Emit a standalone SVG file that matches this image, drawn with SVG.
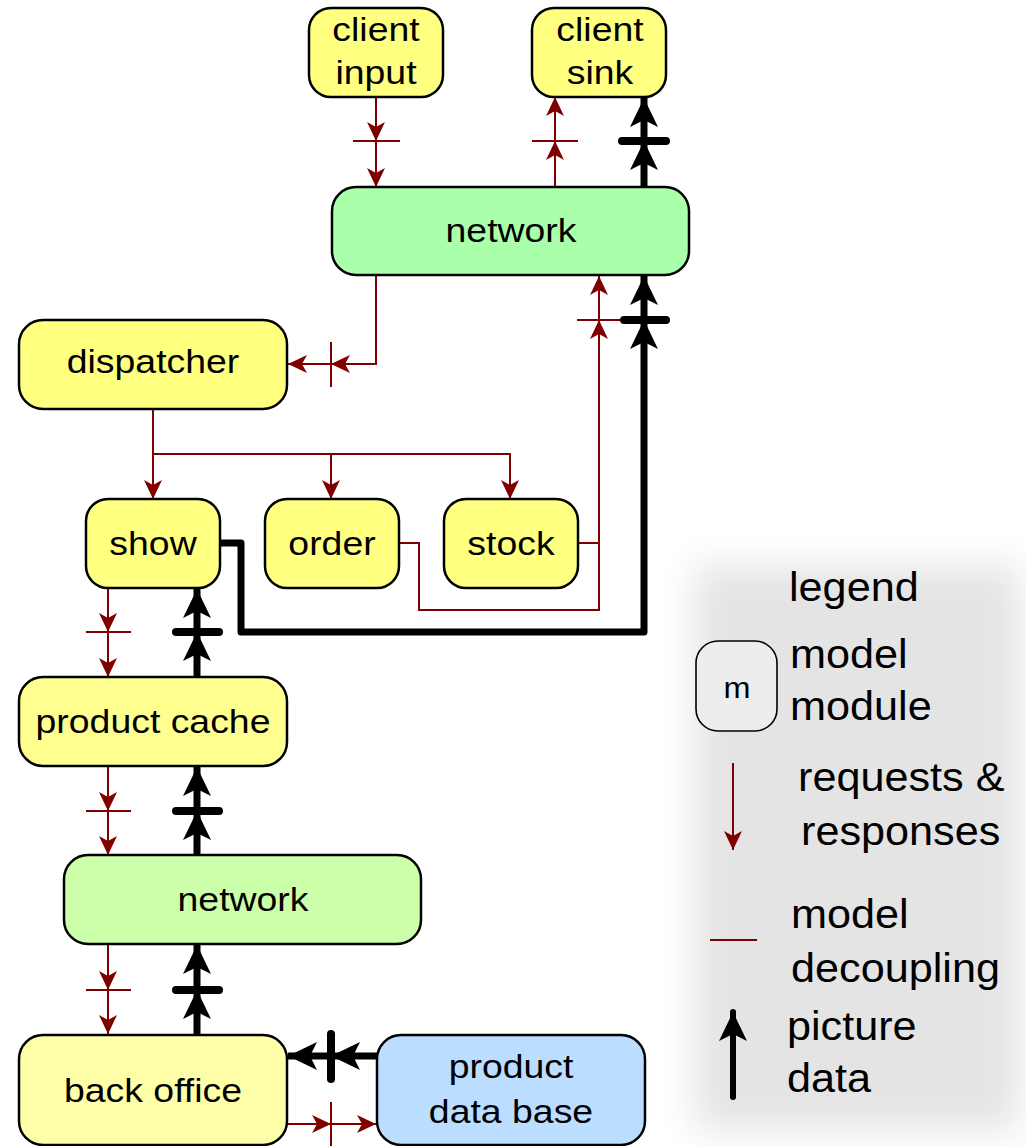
<svg xmlns="http://www.w3.org/2000/svg" width="1026" height="1146" viewBox="0 0 1026 1146">
  <style>
    .node rect { stroke: #000; stroke-width: 2.5; }
    .yel { fill: #ffff80; }
    .yel2 { fill: #ffff90; }
    .yel3 { fill: #ffffaa; }
    .grn { fill: #aaffaa; }
    .grn2 { fill: #ccffaa; }
    .blu { fill: #bbddff; }
    text { font-family: "Liberation Sans", Arial, sans-serif; fill: #000; }
    .lbl { font-size: 34px; text-anchor: middle; }
    .leg { font-size: 40px; }
    .req { stroke: #800000; stroke-width: 2; fill: none; }
    .pic { stroke: #000; stroke-width: 7; fill: none; }
    .bar-r { stroke: #800000; stroke-width: 2; }
    .bar-b { stroke: #000; stroke-width: 8; stroke-linecap: round; }
  </style>
  <defs>
    <marker id="ar" markerUnits="userSpaceOnUse" markerWidth="22" markerHeight="20" viewBox="-20 -10 22 20" refX="0" refY="0" orient="auto">
      <path d="M0,0 L-19,-9 L-14,0 L-19,9 Z" fill="#800000"/>
    </marker>
    <marker id="ab" markerUnits="userSpaceOnUse" markerWidth="34" markerHeight="30" viewBox="-32 -15 34 30" refX="0" refY="0" orient="auto">
      <path d="M0,0 L-29,-14 L-22,0 L-29,14 Z" fill="#000"/>
    </marker>
    <filter id="soft" x="-20%" y="-20%" width="140%" height="140%">
      <feGaussianBlur stdDeviation="18"/>
    </filter>
  </defs>

  <rect width="1026" height="1146" fill="#fff"/>

  <!-- legend backdrop -->
  <rect x="695" y="565" width="325" height="565" fill="#e4e4e4" filter="url(#soft)"/>

  <!-- connectors -->
  <g id="connectors">
    <!-- client input -> network -->
    <path class="req" d="M376,97 V141" marker-end="url(#ar)"/>
    <path class="req" d="M376,141 V187" marker-end="url(#ar)"/>
    <line class="bar-r" x1="353" y1="141" x2="400" y2="141"/>
    <!-- network -> client sink -->
    <path class="req" d="M555,187 V141" marker-end="url(#ar)"/>
    <path class="req" d="M555,141 V97" marker-end="url(#ar)"/>
    <line class="bar-r" x1="532" y1="141" x2="578" y2="141"/>
    <path class="pic" d="M644,187 V141" marker-end="url(#ab)"/>
    <path class="pic" d="M644,141 V98" marker-end="url(#ab)"/>
    <line class="bar-b" x1="622" y1="141" x2="666" y2="141"/>

    <!-- network -> dispatcher -->
    <path class="req" d="M376,275 V364 H331" marker-end="url(#ar)"/>
    <path class="req" d="M331,364 H288" marker-end="url(#ar)"/>
    <line class="bar-r" x1="331" y1="342" x2="331" y2="387"/>

    <!-- dispatcher -> show / order / stock -->
    <path class="req" d="M153,409 V499" marker-end="url(#ar)"/>
    <path class="req" d="M153,454 H510 V499" marker-end="url(#ar)"/>
    <path class="req" d="M331,454 V499" marker-end="url(#ar)"/>

    <!-- order / stock -> network -->
    <path class="req" d="M578,543 H599"/>
    <path class="req" d="M399,543 H419 V610 H599 V320" marker-end="url(#ar)"/>
    <path class="req" d="M599,320 V276" marker-end="url(#ar)"/>
    <line class="bar-r" x1="577" y1="320" x2="621" y2="320"/>

    <!-- show -> network (picture) -->
    <path class="pic" d="M220,543 H241 V632 H644 V320" marker-end="url(#ab)" stroke-linejoin="round"/>
    <path class="pic" d="M644,320 V276" marker-end="url(#ab)"/>
    <line class="bar-b" x1="624" y1="320" x2="666" y2="320"/>

    <!-- show <-> product cache -->
    <path class="req" d="M108,588 V632" marker-end="url(#ar)"/>
    <path class="req" d="M108,632 V677" marker-end="url(#ar)"/>
    <line class="bar-r" x1="86" y1="632" x2="131" y2="632"/>
    <path class="pic" d="M197,677 V632" marker-end="url(#ab)"/>
    <path class="pic" d="M197,632 V589" marker-end="url(#ab)"/>
    <line class="bar-b" x1="176" y1="632" x2="219" y2="632"/>

    <!-- product cache <-> network -->
    <path class="req" d="M108,766 V811" marker-end="url(#ar)"/>
    <path class="req" d="M108,811 V855" marker-end="url(#ar)"/>
    <line class="bar-r" x1="86" y1="811" x2="131" y2="811"/>
    <path class="pic" d="M197,855 V811" marker-end="url(#ab)"/>
    <path class="pic" d="M197,811 V767" marker-end="url(#ab)"/>
    <line class="bar-b" x1="176" y1="811" x2="219" y2="811"/>

    <!-- network <-> back office -->
    <path class="req" d="M108,944 V990" marker-end="url(#ar)"/>
    <path class="req" d="M108,990 V1034" marker-end="url(#ar)"/>
    <line class="bar-r" x1="86" y1="990" x2="131" y2="990"/>
    <path class="pic" d="M197,1034 V990" marker-end="url(#ab)"/>
    <path class="pic" d="M197,990 V945" marker-end="url(#ab)"/>
    <line class="bar-b" x1="176" y1="990" x2="219" y2="990"/>

    <!-- product data base <-> back office -->
    <path class="pic" d="M377,1056 H331" marker-end="url(#ab)"/>
    <path class="pic" d="M331,1056 H288" marker-end="url(#ab)"/>
    <line class="bar-b" x1="331" y1="1034" x2="331" y2="1079"/>
    <path class="req" d="M287,1124 H331" marker-end="url(#ar)"/>
    <path class="req" d="M331,1124 H376" marker-end="url(#ar)"/>
    <line class="bar-r" x1="331" y1="1102" x2="331" y2="1146"/>
  </g>

  <!-- nodes (labels are drawn slightly widened) -->
  <g id="client-input" class="node">
    <rect class="yel" x="309" y="8" width="134" height="89" rx="22"/>
    <text class="lbl" transform="translate(376,41) scale(1.1,1)">client</text>
    <text class="lbl" transform="translate(376,84) scale(1.1,1)">input</text>
  </g>
  <g id="client-sink" class="node">
    <rect class="yel" x="532" y="8" width="134" height="89" rx="22"/>
    <text class="lbl" transform="translate(600,41) scale(1.1,1)">client</text>
    <text class="lbl" transform="translate(600,84) scale(1.1,1)">sink</text>
  </g>
  <g id="network-top" class="node">
    <rect class="grn" x="332" y="187" width="357" height="88" rx="24"/>
    <text class="lbl" transform="translate(511,242) scale(1.1,1)">network</text>
  </g>
  <g id="dispatcher" class="node">
    <rect class="yel" x="19" y="320" width="268" height="89" rx="24"/>
    <text class="lbl" transform="translate(153,373) scale(1.1,1)">dispatcher</text>
  </g>
  <g id="show" class="node">
    <rect class="yel" x="86" y="499" width="134" height="89" rx="22"/>
    <text class="lbl" transform="translate(153,555) scale(1.1,1)">show</text>
  </g>
  <g id="order" class="node">
    <rect class="yel" x="265" y="499" width="134" height="89" rx="22"/>
    <text class="lbl" transform="translate(332,555) scale(1.1,1)">order</text>
  </g>
  <g id="stock" class="node">
    <rect class="yel" x="444" y="499" width="134" height="89" rx="22"/>
    <text class="lbl" transform="translate(511,555) scale(1.1,1)">stock</text>
  </g>
  <g id="product-cache" class="node">
    <rect class="yel2" x="19" y="677" width="268" height="89" rx="24"/>
    <text class="lbl" transform="translate(153,733) scale(1.1,1)">product cache</text>
  </g>
  <g id="network-bottom" class="node">
    <rect class="grn2" x="64" y="855" width="357" height="89" rx="24"/>
    <text class="lbl" transform="translate(243,911) scale(1.1,1)">network</text>
  </g>
  <g id="back-office" class="node">
    <rect class="yel3" x="19" y="1035" width="268" height="110" rx="24"/>
    <text class="lbl" transform="translate(153,1102) scale(1.1,1)">back office</text>
  </g>
  <g id="product-data-base" class="node">
    <rect class="blu" x="377" y="1035" width="268" height="110" rx="24"/>
    <text class="lbl" transform="translate(511,1078) scale(1.1,1)">product</text>
    <text class="lbl" transform="translate(511,1123) scale(1.1,1)">data base</text>
  </g>

  <!-- legend -->
  <g id="legend">
    <text class="leg" transform="translate(789,601) scale(1.08,1)">legend</text>
    <rect x="696" y="641" width="81" height="90" rx="22" fill="#ededed" stroke="#000" stroke-width="1.6"/>
    <text transform="translate(737,698) scale(1.08,1)" font-size="30" text-anchor="middle">m</text>
    <text class="leg" transform="translate(790,668) scale(1.08,1)">model</text>
    <text class="leg" transform="translate(790,720) scale(1.08,1)">module</text>
    <path class="req" d="M733,763 V850" marker-end="url(#ar)"/>
    <text class="leg" transform="translate(798,791) scale(1.08,1)">requests &amp;</text>
    <text class="leg" transform="translate(801,845) scale(1.08,1)">responses</text>
    <line class="bar-r" x1="710" y1="940" x2="757" y2="940"/>
    <text class="leg" transform="translate(791,928) scale(1.08,1)">model</text>
    <text class="leg" transform="translate(791,982) scale(1.08,1)">decoupling</text>
    <path stroke="#000" stroke-width="6" stroke-linecap="round" d="M733,1097 V1012" marker-end="url(#ab)"/>
    <text class="leg" transform="translate(787,1040) scale(1.08,1)">picture</text>
    <text class="leg" transform="translate(787,1092) scale(1.08,1)">data</text>
  </g>
</svg>
